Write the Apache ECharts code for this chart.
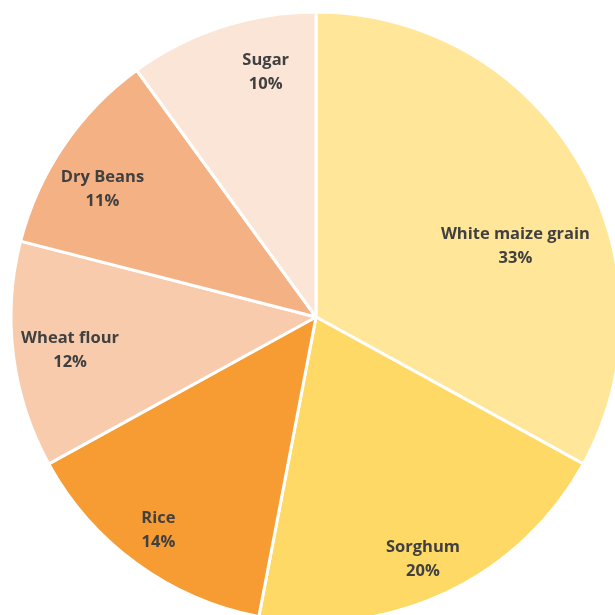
<!DOCTYPE html>
<html>
<head>
<meta charset="utf-8">
<script src="https://cdn.jsdelivr.net/npm/echarts@6/dist/echarts.min.js"></script>
<style>
  html, body { margin: 0; padding: 0; background: #fff; }
  #chart { width: 615px; height: 615px; }
</style>
</head>
<body>
<div id="chart"></div>
<script>
// Staple food shares
const categories = ['White maize grain', 'Sorghum', 'Rice', 'Wheat flour', 'Dry Beans', 'Sugar'];
const shares = [33, 20, 14, 12, 11, 10];
const colors = ['#FFE699', '#FFD966', '#F79B33', '#F8CBAD', '#F4B183', '#FBE5D6'];

const slices = categories.map((name, i) => ({
  name,
  value: shares[i],
  itemStyle: { color: colors[i] }
}));

const labelStyle = {
  show: true,
  position: 'inside',
  formatter: p => p.name + '\n' + p.value + '%',
  fontFamily: 'Open Sans',
  fontWeight: 'bold',
  fontSize: 16.5,
  lineHeight: 24,
  color: '#404040'
};

// Small nudges for a few labels inside their slices
const labelNudges = [[-27, 63], [-5, 4], [-3, 1], [15, 0], [4, 20], [31, 5]];

// Label-only pie: a wider transparent ring pushes the inside labels outward
const labelSlices = categories.map((name, i) => ({
  name,
  value: shares[i],
  label: { offset: labelNudges[i] }
}));

const chart = echarts.init(document.getElementById('chart'));
chart.setOption({
  animation: false,
  series: [
    {
      type: 'pie',
      center: [316, 317],
      radius: [0, 305],
      startAngle: 90,
      clockwise: true,
      silent: true,
      label: { show: false },
      labelLine: { show: false },
      itemStyle: { borderColor: '#ffffff', borderWidth: 3 },
      data: slices
    },
    {
      type: 'pie',
      center: [316, 317],
      radius: [0, 520],
      startAngle: 90,
      clockwise: true,
      silent: true,
      itemStyle: { color: 'rgba(0,0,0,0)', borderWidth: 0 },
      label: labelStyle,
      labelLine: { show: false },
      data: labelSlices
    }
  ]
});
</script>
</body>
</html>
